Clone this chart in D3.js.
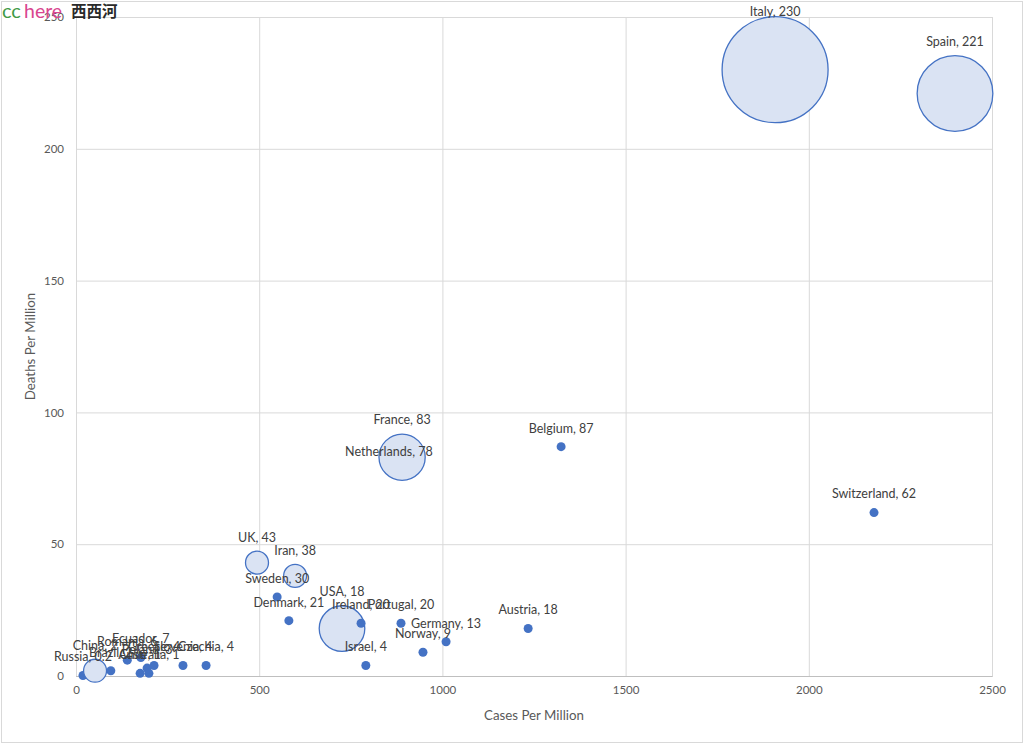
<!DOCTYPE html>
<html>
<head>
<meta charset="utf-8">
<script src="https://cdn.jsdelivr.net/npm/d3@7"></script>
<style>
  html, body { margin: 0; padding: 0; background: #fff; }
  svg { display: block; }
</style>
</head>
<body>
<svg id="chart" width="1024" height="744"></svg>
<script>
// ---- data ----
const countries = ["Italy","Spain","Netherlands","France","Belgium","Switzerland","Austria","Germany","Norway","Portugal","USA","Ireland","Israel","Denmark","Sweden","Iran","UK","Russia","China","Brazil","Romania","Ecuador","Chile","Poland","Australia","Greece","Slovenia","Czechia"];
const casesPerMillion = [1908, 2399, 854, 890, 1324, 2178, 1234, 1010, 947, 887, 726, 778, 791, 581, 549, 598, 494, 19, 52, 95, 140, 177, 175, 194, 199, 213, 292, 355];
const deathsPerMillion = [230, 221, 78, 83, 87, 62, 18, 13, 9, 20, 18, 20, 4, 21, 30, 38, 43, 0.2, 2, 2, 6, 7, 1, 3, 1, 4, 4, 4];
const bubbleSize = [100, 51, 0.72, 19, 0.72, 0.72, 0.72, 0.72, 0.72, 0.72, 18.5, 0.72, 0.72, 0.72, 0.72, 4.7, 4.7, 0.72, 4.7, 0.72, 0.72, 0.72, 0.72, 0.72, 0.72, 0.72, 0.72, 0.72];
const xTicks = [0, 500, 1000, 1500, 2000, 2500];
const yTicks = [0, 50, 100, 150, 200, 250];
const xTitle = "Cases Per Million";
const yTitle = "Deaths Per Million";

const data = countries.map((c, i) => ({ c, x: casesPerMillion[i], y: deathsPerMillion[i], s: bubbleSize[i] }));

// ---- layout ----
const svg = d3.select("#chart");
const W = 1024, H = 744;
const m = { left: 76, right: 32, top: 17, bottom: 68 };
const x = d3.scaleLinear().domain([0, 2500]).range([m.left, W - m.right]);
const y = d3.scaleLinear().domain([0, 250]).range([H - m.bottom, m.top]);
const r = d3.scaleSqrt().domain([0, 100]).range([0, 53]);

const FONT = "Lato, 'Open Sans', sans-serif";
const grid = "#d9d9d9";
const textCol = "#595959";

// outer border
svg.append("rect").attr("x", 1.5).attr("y", 1.5).attr("width", W - 3).attr("height", H - 3)
  .attr("fill", "#fff").attr("stroke", "#d9d9d9").attr("stroke-width", 1);

// gridlines
const gx = svg.append("g").attr("transform", `translate(0,${H - m.bottom})`)
  .call(d3.axisBottom(x).tickValues(xTicks).tickSize(-(H - m.bottom - m.top)).tickPadding(10).tickFormat(d3.format("d")));
gx.select(".domain").attr("stroke", "#bfbfbf");
gx.selectAll(".tick line").attr("stroke", grid);
gx.selectAll(".tick text").attr("fill", textCol).attr("font-family", FONT).attr("font-size", 11.5);

const gy = svg.append("g").attr("transform", `translate(${m.left},0)`)
  .call(d3.axisLeft(y).tickValues(yTicks).tickSize(-(W - m.left - m.right)).tickPadding(12).tickFormat(d3.format("d")));
gy.select(".domain").remove();
gy.selectAll(".tick line").attr("stroke", grid);
gy.selectAll(".tick text").attr("fill", textCol).attr("font-family", FONT).attr("font-size", 11.5);
// bottom axis line on top of gridline
svg.append("line").attr("x1", m.left).attr("x2", W - m.right)
  .attr("y1", y(0) + 0.5).attr("y2", y(0) + 0.5).attr("stroke", "#bfbfbf");

// axis titles
svg.append("text").attr("x", (m.left + W - m.right) / 2).attr("y", 720)
  .attr("text-anchor", "middle").attr("font-family", FONT).attr("font-size", 13.3)
  .attr("fill", textCol).text(xTitle);
svg.append("text").attr("transform", `translate(35,${(m.top + H - m.bottom) / 2}) rotate(-90)`)
  .attr("text-anchor", "middle").attr("font-family", FONT).attr("font-size", 13.3)
  .attr("fill", textCol).text(yTitle);

// bubbles
svg.append("g").selectAll("circle").data(data).join("circle")
  .attr("cx", d => x(d.x)).attr("cy", d => y(d.y)).attr("r", d => r(d.s))
  .attr("fill", d => r(d.s) < 6 ? "#4472c4" : "#dae3f3")
  .attr("stroke", "#4472c4").attr("stroke-width", d => r(d.s) < 6 ? 0 : 1.3);

// labels
svg.append("g").selectAll("text").data(data).join("text")
  .attr("x", d => x(d.x))
  .attr("y", d => Math.max(m.top - 5, y(d.y) - r(d.s) - 14))
  .attr("dy", "0.35em")
  .attr("text-anchor", "middle").attr("font-family", FONT).attr("font-size", 12.5)
  .attr("fill", "#404040")
  .text(d => `${d.c}, ${d.y}`);

// logo
const logo = svg.append("g");
logo.append("text").attr("x", 2).attr("y", 18).attr("font-family", FONT).attr("font-size", 20)
  .attr("fill", "#3f9a47").text("cc");
logo.append("text").attr("x", 24).attr("y", 18).attr("font-family", FONT).attr("font-size", 19.5)
  .attr("fill", "#d9468f").text("here");
logo.append("text").attr("x", 71).attr("y", 17).attr("font-size", 15.5)
  .attr("font-family", "'Noto Sans CJK SC', sans-serif").attr("font-weight", 600)
  .attr("fill", "#2a2a2a").text("西西河");
</script>
</body>
</html>
